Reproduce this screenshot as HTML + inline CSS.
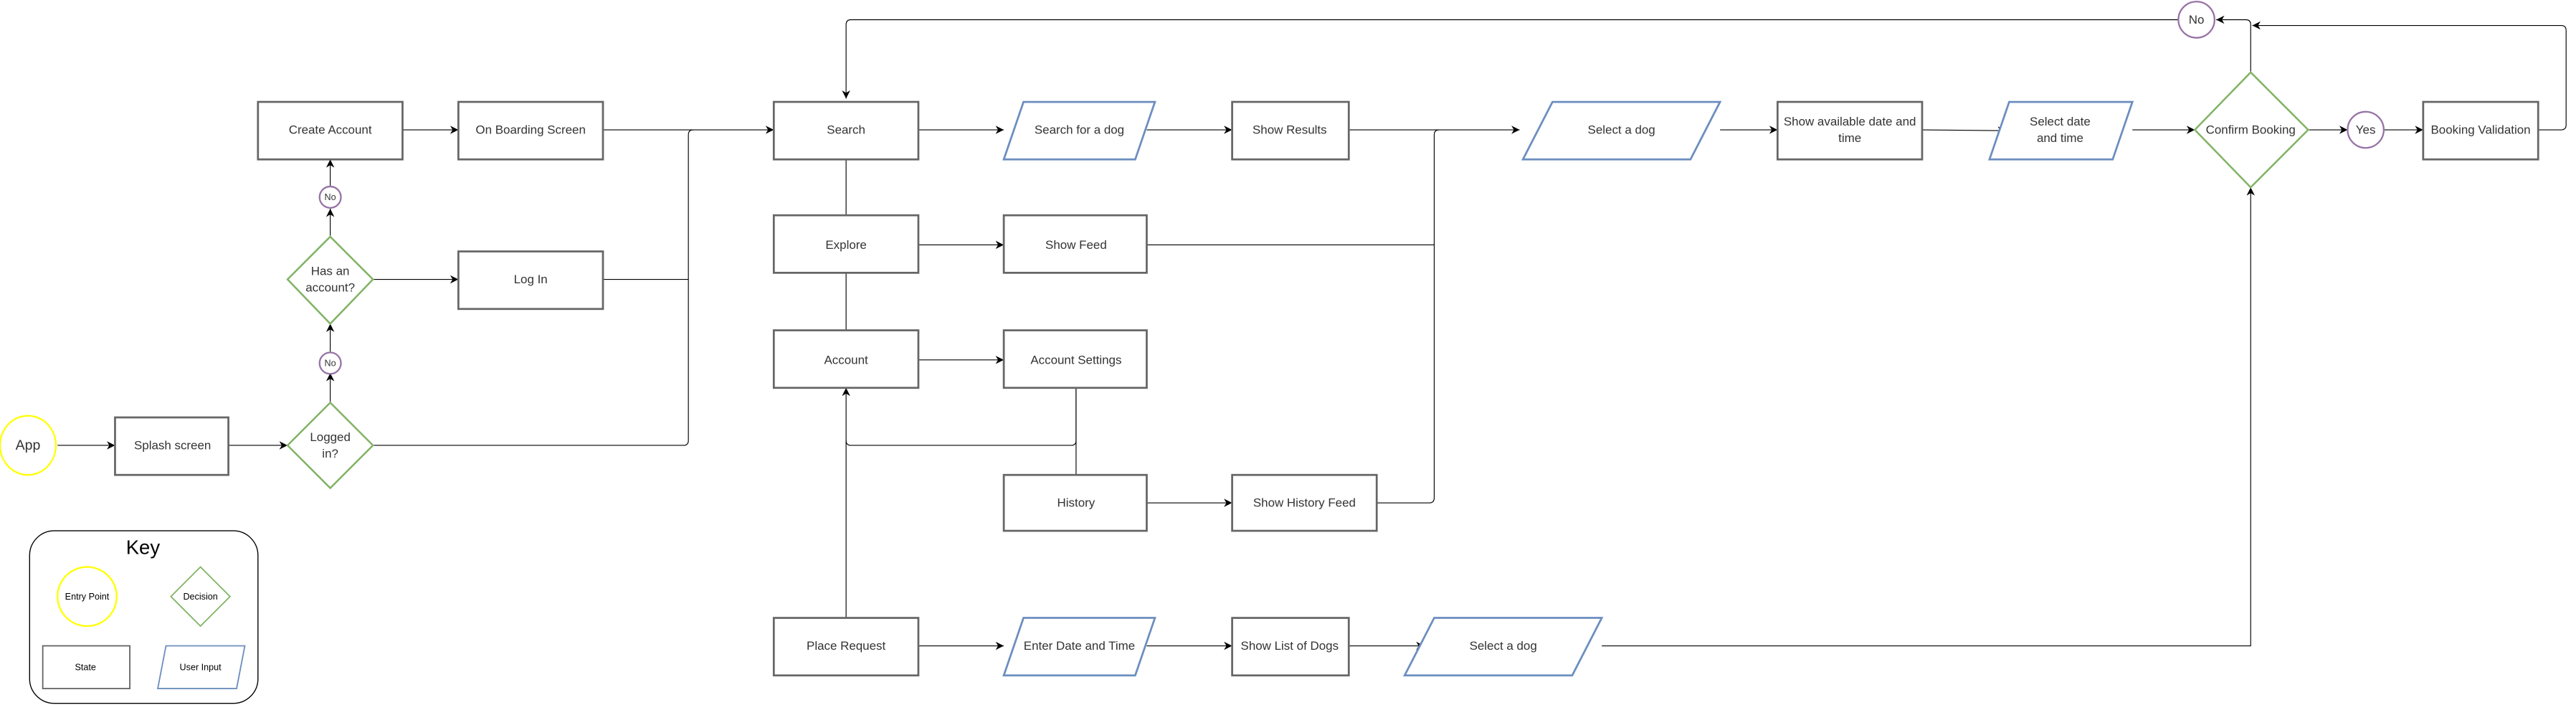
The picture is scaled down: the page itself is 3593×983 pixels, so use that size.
<!DOCTYPE html>
<html><head><meta charset="utf-8"><style>
html,body{margin:0;padding:0;background:#fff;}
svg{display:block;}
text{font-family:"Liberation Sans",sans-serif;font-size:7.4px;fill:#333;text-anchor:middle;dominant-baseline:central;}
.b{fill:#fff;stroke:#666;stroke-width:1.2;}
.p{fill:#fff;stroke:#6c8ebf;stroke-width:1.2;}
.d{fill:#fff;stroke:#82b366;stroke-width:1.1;}
.c{fill:#fff;stroke:#9673a6;stroke-width:1;}
.y{fill:#fff;stroke:#ffff00;stroke-width:1;}
.l{fill:none;stroke:#000;stroke-width:0.5;}
</style></head><body>
<svg width="3593" height="983" viewBox="0 0 1568 429" xmlns="http://www.w3.org/2000/svg">
<defs><marker id="a" markerWidth="6" markerHeight="6" refX="5" refY="3" orient="auto" markerUnits="userSpaceOnUse"><path d="M0,0.5 L5,3 L0,5.5 L1.5,3 z" fill="#000"/></marker></defs>

<g class="l" marker-end="url(#a)">
<path d="M35,271 H70"/>
<path d="M139,271 H175"/>
<path d="M201,245 V227"/>
<path d="M201,214 V197"/>
<path d="M201,144 V127"/>
<path d="M201,113 V97"/>
<path d="M227,170 H279"/>
<path d="M245,79 H279"/>
<path d="M367,79 H471"/>
<path d="M559,79 H611"/>
<path d="M698,79 H750"/>
<path d="M821,79 H925"/>
<path d="M1047,79 H1082"/>
<path d="M1170,79 L1221,79.5"/>
<path d="M1298,79 H1336"/>
<path d="M1405,79 H1429"/>
<path d="M1451,79 H1475"/>
<path d="M559,149 H611"/>
<path d="M559,219 H611"/>
<path d="M698,306 H750"/>
<path d="M559,393 H611"/>
<path d="M698,393 H750"/>
<path d="M821,393 H867"/>
<path d="M975,393 H1370 V114"/>
<path d="M515,376 V236"/>
<path d="M1370,44 V15 Q1370,12 1367,12 H1349"/>
<path d="M1545,79 H1559 Q1562,79 1562,76 V18.5 Q1562,15.5 1559,15.5 H1371"/>
<path d="M1326,12 H518 Q515,12 515,15 V60"/>
</g>
<g class="l">
<path d="M367,170 H419"/>
<path d="M227,271 H416 Q419,271 419,268 V82 Q419,79 422,79"/>
<path d="M515,97 V131"/>
<path d="M515,166 V201"/>
<path d="M655,236 V289"/>
<path d="M655,236 V268 Q655,271 652,271 H518 Q515,271 515,268"/>
<path d="M698,149 H873"/>
<path d="M838,306 H870 Q873,306 873,303 V82 Q873,79 876,79"/>
</g>

<ellipse class="y" cx="17" cy="271" rx="17" ry="18"/><text x="17" y="271" style="font-size:8.5px">App</text>
<rect class="b" x="70" y="254" width="69" height="35"/><text x="105" y="271">Splash screen</text>
<polygon class="d" points="201,245 227,271 201,297 175,271"/><text x="201" y="266">Logged</text><text x="201" y="276">in?</text>
<ellipse class="c" cx="201" cy="221" rx="6.5" ry="6.5"/><text x="201" y="221" style="font-size:5.5px">No</text>
<polygon class="d" points="201,144 227,170 201,197 175,170"/><text x="201" y="165">Has an</text><text x="201" y="175">account?</text>
<ellipse class="c" cx="201" cy="120" rx="6.5" ry="6.5"/><text x="201" y="120" style="font-size:5.5px">No</text>
<rect class="b" x="157" y="62" width="88" height="35"/><text x="201" y="79">Create Account</text>
<rect class="b" x="279" y="62" width="88" height="35"/><text x="323" y="79">On Boarding Screen</text>
<rect class="b" x="279" y="153" width="88" height="35"/><text x="323" y="170">Log In</text>

<rect class="b" x="471" y="62" width="88" height="35"/><text x="515" y="79">Search</text>
<rect class="b" x="471" y="131" width="88" height="35"/><text x="515" y="149">Explore</text>
<rect class="b" x="471" y="201" width="88" height="35"/><text x="515" y="219">Account</text>
<rect class="b" x="471" y="376" width="88" height="35"/><text x="515" y="393">Place Request</text>

<polygon class="p" points="623,62 703,62 691,97 611,97"/><text x="657" y="79">Search for a dog</text>
<rect class="b" x="750" y="62" width="71" height="35"/><text x="785" y="79">Show Results</text>
<rect class="b" x="611" y="131" width="87" height="35"/><text x="655" y="149">Show Feed</text>
<rect class="b" x="611" y="201" width="87" height="35"/><text x="655" y="219">Account Settings</text>
<rect class="b" x="611" y="289" width="87" height="34"/><text x="655" y="306">History</text>
<rect class="b" x="750" y="289" width="88" height="34"/><text x="794" y="306">Show History Feed</text>

<polygon class="p" points="623,376 703,376 691,411 611,411"/><text x="657" y="393">Enter Date and Time</text>
<rect class="b" x="750" y="376" width="71" height="35"/><text x="785" y="393">Show List of Dogs</text>
<polygon class="p" points="873,376 975,376 957,411 855,411"/><text x="915" y="393">Select a dog</text>

<polygon class="p" points="945,62 1047,62 1029,97 927,97"/><text x="987" y="79">Select a dog</text>
<rect class="b" x="1082" y="62" width="88" height="35"/><text x="1126" y="74">Show available date and</text><text x="1126" y="84">time</text>
<polygon class="p" points="1223,62 1298,62 1286,97 1211,97"/><text x="1254" y="74">Select date</text><text x="1254" y="84">and time</text>
<polygon class="d" points="1370,44 1405,79 1370,114 1336,79"/><text x="1370" y="79">Confirm Booking</text>
<ellipse class="c" cx="1440" cy="79" rx="11" ry="11"/><text x="1440" y="79">Yes</text>
<rect class="b" x="1475" y="62" width="70" height="35"/><text x="1510" y="79">Booking Validation</text>
<ellipse class="c" cx="1337" cy="12" rx="11" ry="11"/><text x="1337" y="12">No</text>

<rect x="18" y="323" width="139" height="105" rx="15" ry="15" fill="#fff" stroke="#000" stroke-width="0.6"/>
<text x="87" y="333" style="font-size:12px;fill:#000">Key</text>
<ellipse class="y" cx="53" cy="363" rx="18" ry="18"/><text x="53" y="363" style="font-size:5.5px;fill:#000">Entry Point</text>
<polygon points="122,345 140,363 122,381 104,363" fill="#fff" stroke="#82b366" stroke-width="0.8"/><text x="122" y="363" style="font-size:5.5px;fill:#000">Decision</text>
<rect x="26" y="393" width="53" height="26" fill="#fff" stroke="#666" stroke-width="0.8"/><text x="52" y="406" style="font-size:5.5px;fill:#000">State</text>
<polygon points="101,393 149,393 144,419 96,419" fill="#fff" stroke="#6c8ebf" stroke-width="0.8"/><text x="122" y="406" style="font-size:5.5px;fill:#000">User Input</text>
</svg>
</body></html>
